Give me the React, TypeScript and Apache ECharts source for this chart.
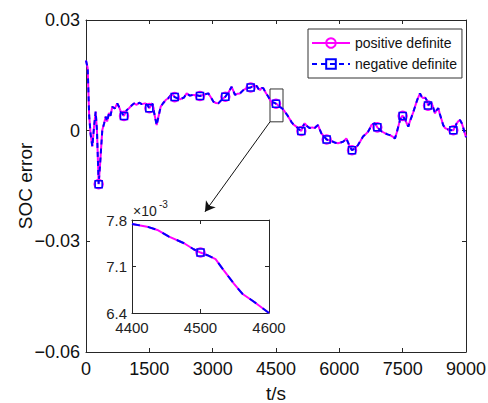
import React, { useEffect, useRef } from "react";
import * as echarts from "echarts";

// Main curve (time in s, SOC error)
const timeS = [
  0, 40, 75, 110, 150, 190, 229, 260, 300, 340, 386, 430, 466, 500, 545, 580, 623, 680, 741, 780, 822, 900,
  960, 1018, 1080, 1137, 1200, 1260, 1320, 1400, 1452, 1500, 1571, 1620, 1674, 1720, 1769, 1830, 1887, 1950,
  2000, 2044, 2100, 2160, 2226, 2321, 2384, 2460, 2541, 2620, 2700, 2800, 2897, 2960, 3015, 3080, 3134, 3200,
  3252, 3300, 3380, 3449, 3490, 3528, 3580, 3647, 3726, 3800, 3900, 3970, 4043, 4080, 4122, 4160, 4200, 4260,
  4319, 4360, 4400, 4437, 4476, 4500, 4522, 4549, 4578, 4600, 4650, 4705, 4780, 4863, 4920, 4981, 5040, 5100,
  5140, 5179, 5240, 5298, 5360, 5416, 5460, 5495, 5540, 5574, 5640, 5700, 5780, 5850, 5910, 5969, 6030, 6087,
  6130, 6166, 6210, 6245, 6300, 6370, 6442, 6500, 6561, 6620, 6679, 6720, 6758, 6800, 6845, 6900, 6990, 7082,
  7140, 7200, 7260, 7318, 7360, 7397, 7440, 7476, 7500, 7560, 7595, 7634, 7670, 7713, 7750, 7792, 7850, 7910,
  7950, 7989, 8030, 8068, 8100, 8147, 8188, 8230, 8266, 8300, 8345, 8380, 8424, 8460, 8503, 8560, 8621, 8700,
  8740, 8779, 8820, 8858, 8900, 8937, 8980, 9000,
];
const positiveDefinite = [
  0.019, 0.017, 0.004, -0.001, -0.0043, 0.001, 0.0052, 0.0, -0.0145, -0.008, 0.0002, 0.002, 0.0038, 0.0025,
  0.0048, 0.004, 0.0065, 0.006, 0.0074, 0.0065, 0.0052, 0.004, 0.0055, 0.0061, 0.0068, 0.0074, 0.007, 0.0076,
  0.0072, 0.0074, 0.007, 0.0061, 0.0074, 0.0045, 0.0015, 0.004, 0.0065, 0.0075, 0.0083, 0.0088, 0.0095, 0.0099,
  0.0091, 0.0088, 0.0085, 0.009, 0.0101, 0.0095, 0.0097, 0.0096, 0.0094, 0.0098, 0.0101, 0.009, 0.0079, 0.0075,
  0.0074, 0.0082, 0.0088, 0.0092, 0.0105, 0.0119, 0.0108, 0.0097, 0.01, 0.0101, 0.011, 0.0115, 0.0117, 0.0122,
  0.0121, 0.0114, 0.011, 0.0116, 0.0115, 0.0102, 0.0092, 0.0083, 0.00775, 0.00765, 0.00745, 0.0073, 0.00721,
  0.00684, 0.00657, 0.0064, 0.006, 0.0052, 0.004, 0.0024, 0.0016, 0.0011, 0.0004, -0.0001, 0.0012, 0.002, 0.0012,
  0.0007, 0.0009, 0.0007, 0.0012, 0.0015, 0.0002, -0.0007, -0.0016, -0.0024, -0.0027, -0.003, -0.0033, -0.0034,
  -0.0032, -0.003, -0.0026, -0.0021, -0.0033, -0.0043, -0.0053, -0.0048, -0.0039, -0.0028, -0.0016, -0.001,
  -0.0003, 0.0005, 0.0015, 0.0018, 0.002, 0.0009, -0.0001, -0.0007, -0.001, -0.0012, -0.0016, -0.0021, -0.0005,
  0.0011, 0.003, 0.0038, 0.004, 0.003, 0.002, 0.0011, 0.0025, 0.0038, 0.005, 0.0065, 0.0085, 0.0101, 0.0092,
  0.0088, 0.009, 0.0083, 0.0068, 0.0075, 0.0074, 0.006, 0.0047, 0.0055, 0.0061, 0.0045, 0.0029, 0.0015, 0.0007,
  0.0004, 0.0002, 0.0001, 0.001, 0.002, 0.0026, 0.0029, 0.002, 0.0007, -0.001, -0.0018,
];
// The two estimates coincide at this scale
const negativeDefinite = positiveDefinite;
const markerTimes = [300, 900, 1500, 2100, 2700, 3300, 3900, 4500, 5100, 5700, 6300, 6900, 7500, 8100, 8700];

// Inset (values in units of 1e-3)
const insetTime = [4400, 4422, 4437, 4454, 4476, 4490, 4500, 4510, 4522, 4534, 4549, 4561, 4578, 4600];
const insetPositive = [7.74, 7.7, 7.65, 7.55, 7.45, 7.36, 7.31, 7.27, 7.21, 7.04, 6.84, 6.69, 6.57, 6.4];
const insetNegative = insetPositive;
const insetMarkerTimes = [4500];
const insetYTicks = [6.4, 7.1, 7.8];

const FONT = "'Liberation Sans', Arial, Helvetica, sans-serif";
const AX = "#262626";
const MAGENTA = "#ff00ff";
const BLUE = "#0000ff";
const CLEAR = "rgba(0,0,0,0)";

function build(times: number[], vals: number[], marks: number[]) {
  return times.map((t, i) =>
    marks.includes(t) ? { value: [t, vals[i]] } : { value: [t, vals[i]], symbol: "none" }
  );
}

const fmtMain = (v: number) => {
  if (Math.abs(v) < 1e-9) return "0";
  return (v < 0 ? "\u2212" : "") + Math.abs(v).toFixed(2);
};

export default function App() {
  const ref = useRef<HTMLDivElement>(null);
  useEffect(() => {
    if (!ref.current) return;
    const chart = echarts.init(ref.current, undefined, { renderer: "svg" });
    const tickStyle = { inside: true, length: 4, lineStyle: { color: AX, width: 1 } };
    const lineAx = { show: true, onZero: false, lineStyle: { color: AX, width: 1 } };
    const mainX = { type: "value", min: 0, max: 9000, interval: 1500 };
    const mainY = { type: "value", min: -0.06, max: 0.03, interval: 0.03 };
    const insX = { type: "value", min: 4400, max: 4600, interval: 100 };
    const insY = { type: "value", min: 6.4, max: 7.8 };
    const posStyle = {
      symbol: "circle", symbolSize: 9, showAllSymbol: true,
      lineStyle: { color: MAGENTA, width: 2 },
      itemStyle: { color: CLEAR, borderColor: MAGENTA, borderWidth: 1.5 },
    };
    const negStyle = {
      symbol: "rect", symbolSize: 7, showAllSymbol: true,
      itemStyle: { color: CLEAR, borderColor: BLUE, borderWidth: 1.5 },
    };
    const option: any = {
      animation: false,
      backgroundColor: "#fff",
      textStyle: { fontFamily: FONT },
      grid: [
        { left: 86, top: 20, width: 380, height: 332, show: false, containLabel: false, outerBoundsMode: "none" },
        { left: 132, top: 220, width: 137, height: 93, show: false, containLabel: false, outerBoundsMode: "none" },
      ],
      xAxis: [
        {
          ...mainX, gridIndex: 0, position: "bottom", axisLine: lineAx, axisTick: tickStyle, splitLine: { show: false },
          axisLabel: { color: "#111", fontSize: 18, margin: 8, fontFamily: FONT, formatter: (v: number) => String(v) },
          name: "t/s", nameLocation: "middle", nameGap: 32,
          nameTextStyle: { color: "#111", fontSize: 19, fontFamily: FONT },
        },
        { ...mainX, gridIndex: 0, position: "top", axisLine: lineAx, axisTick: tickStyle, axisLabel: { show: false }, splitLine: { show: false } },
        {
          ...insX, gridIndex: 1, position: "bottom", axisLine: lineAx, axisTick: tickStyle, splitLine: { show: false },
          axisLabel: { color: "#222", fontSize: 15, margin: 7, fontFamily: FONT, formatter: (v: number) => String(v) },
        },
        { ...insX, gridIndex: 1, position: "top", axisLine: lineAx, axisTick: tickStyle, axisLabel: { show: false }, splitLine: { show: false } },
      ],
      yAxis: [
        {
          ...mainY, gridIndex: 0, position: "left", axisLine: lineAx, axisTick: tickStyle, splitLine: { show: false },
          axisLabel: { color: "#111", fontSize: 18, margin: 6, fontFamily: FONT, formatter: fmtMain },
        },
        { ...mainY, gridIndex: 0, position: "right", axisLine: lineAx, axisTick: tickStyle, axisLabel: { show: false }, splitLine: { show: false } },
        {
          ...insY, gridIndex: 1, position: "left", axisLine: lineAx, splitLine: { show: false },
          axisTick: { ...tickStyle, customValues: insetYTicks },
          axisLabel: { color: "#222", fontSize: 15, margin: 5, fontFamily: FONT, customValues: insetYTicks, formatter: (v: number) => v.toFixed(1) },
        },
        {
          ...insY, gridIndex: 1, position: "right", axisLine: lineAx, splitLine: { show: false },
          axisTick: { ...tickStyle, customValues: insetYTicks }, axisLabel: { show: false },
        },
      ],
      legend: {
        left: 308, top: 29, orient: "vertical", itemWidth: 38, itemHeight: 12, itemGap: 7,
        padding: [7, 5, 7, 3], borderColor: "#333", borderWidth: 1, backgroundColor: "#fff",
        textStyle: { fontSize: 14, color: "#111", fontFamily: FONT },
        data: ["positive definite", "negative definite"],
      },
      series: [
        {
          name: "positive definite", type: "line", xAxisIndex: 0, yAxisIndex: 0,
          data: build(timeS, positiveDefinite, markerTimes), ...posStyle,
          markArea: {
            silent: true,
            itemStyle: { color: CLEAR, borderColor: "#333", borderWidth: 1 },
            data: [[{ coord: [4358, 0.0113] }, { coord: [4666, 0.0024] }]],
          },
          markLine: {
            silent: true, symbol: ["none", "arrow"], symbolSize: [9, 10],
            lineStyle: { color: "#111", width: 1, type: "solid" }, label: { show: false },
            data: [[{ coord: [4358, 0.0024] }, { coord: [2818, -0.022] }]],
          },
        },
        {
          name: "negative definite", type: "line", xAxisIndex: 0, yAxisIndex: 0,
          data: build(timeS, negativeDefinite, markerTimes), ...negStyle,
          lineStyle: { color: BLUE, width: 2, type: [5, 4] },
        },
        {
          name: "positive definite", type: "line", xAxisIndex: 2, yAxisIndex: 2,
          data: build(insetTime, insetPositive, insetMarkerTimes), ...posStyle,
        },
        {
          name: "negative definite", type: "line", xAxisIndex: 2, yAxisIndex: 2,
          data: build(insetTime, insetNegative, insetMarkerTimes), ...negStyle,
          lineStyle: { color: BLUE, width: 2, type: [8, 8] },
        },
      ],
      graphic: [
        {
          type: "text", x: 25, y: 186, rotation: Math.PI / 2, z: 10,
          style: { text: "SOC error", fontSize: 19, fill: "#111", fontFamily: FONT, align: "center", verticalAlign: "middle" },
        },
        { type: "text", left: 133, top: 204, z: 10, style: { text: "\u00d710", fontSize: 14, fill: "#222", fontFamily: FONT } },
        { type: "text", left: 159, top: 199, z: 10, style: { text: "-3", fontSize: 10, fill: "#222", fontFamily: FONT } },
      ],
    };
    chart.setOption(option);
    return () => chart.dispose();
  }, []);
  return <div ref={ref} style={{ position: "absolute", left: 0, top: 0, width: 488, height: 403 }} />;
}
